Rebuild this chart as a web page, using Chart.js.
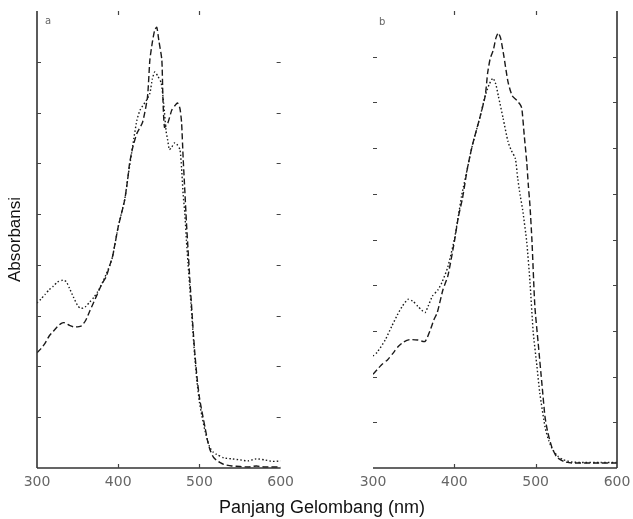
<!DOCTYPE html>
<html>
<head>
<meta charset="utf-8">
<script src="https://cdn.jsdelivr.net/npm/chart.js@4/dist/chart.umd.min.js"></script>
<style>
  html, body { margin: 0; padding: 0; background: #fff; }
  #wrap { position: relative; width: 633px; height: 519px; overflow: hidden; }
  canvas { position: absolute; top: 0; }
  #ca { left: 0; }
  #cb { left: 330px; }
  .lbl { position: absolute; font-family: "DejaVu Sans", sans-serif; font-size: 10px; color: #666; }
  #xtitle { position: absolute; left: 0; width: 644px; text-align: center; top: 497px;
            font-family: "Liberation Sans", Arial, sans-serif; font-size: 18px; color: #111; }
</style>
</head>
<body>
<div id="wrap">
  <canvas id="ca" width="300" height="519"></canvas>
  <canvas id="cb" width="312" height="519"></canvas>
  <div class="lbl" style="left:45px; top:15px;">a</div>
  <div class="lbl" style="left:379px; top:16px;">b</div>
  <div id="xtitle">Panjang Gelombang (nm)</div>
</div>
<script>
// ---- Data (wavelength in nm, absorbance in arbitrary units) ----
const xTicks = [300, 400, 500, 600];

// Panel a
const aDashedNm = [300,305,310,315,320,325,330,334,340,345,350,355,360,365,370,375,380,385,390,393,400,408,412,414,418,423,430,436,439,442,445,447.5,450,453.7,455,457,461,466,470,473,476,478,480,482,484,486,488,490,492,494,497,500,503,507,510,513,517,521,525,530,540,550,560,570,580,600];
const aDashedAbs = [0.227,0.235,0.246,0.260,0.269,0.278,0.285,0.286,0.281,0.278,0.278,0.280,0.291,0.309,0.327,0.345,0.363,0.376,0.401,0.416,0.475,0.528,0.573,0.600,0.632,0.659,0.681,0.730,0.804,0.838,0.863,0.868,0.842,0.804,0.730,0.671,0.679,0.705,0.714,0.719,0.708,0.681,0.609,0.547,0.484,0.430,0.376,0.327,0.278,0.233,0.179,0.139,0.112,0.079,0.054,0.036,0.022,0.015,0.011,0.007,0.004,0.003,0.002,0.004,0.002,0.002];

const aDottedNm = [300,305,310,315,320,325,332,336,340,345,350,353,357,360,365,370,375,380,385,390,393,400,408,412,418,423,427,435,439,442,445,449,453,456,459,461,463,466,469,472,476,478,480,482,484,486,488,490,492,494,497,500,503,507,510,513,517,521,530,540,550,560,570,580,590,600];
const aDottedAbs = [0.325,0.333,0.342,0.351,0.358,0.366,0.370,0.367,0.354,0.336,0.320,0.315,0.315,0.318,0.327,0.336,0.348,0.363,0.381,0.401,0.416,0.475,0.529,0.573,0.636,0.685,0.705,0.725,0.738,0.766,0.780,0.771,0.758,0.717,0.663,0.645,0.627,0.632,0.640,0.638,0.627,0.591,0.538,0.502,0.448,0.403,0.358,0.314,0.269,0.224,0.170,0.130,0.103,0.072,0.054,0.040,0.031,0.027,0.020,0.018,0.016,0.014,0.018,0.016,0.013,0.014];

// Panel b
const bDashedNm = [300,305,310,318,325,331,338,345,355,364,370,375,379,386,392,400,405,410,416,422,432,438,441,444,448,451,454,457,461,466,471,477,481,483,486,489,491,493,495.5,499,503,508,511.5,515,520,526,535,545,560,580,600];
const bDashedAbs = [0.205,0.215,0.225,0.237,0.252,0.266,0.276,0.281,0.280,0.277,0.300,0.325,0.340,0.390,0.420,0.495,0.550,0.590,0.655,0.705,0.771,0.815,0.865,0.895,0.915,0.940,0.952,0.940,0.900,0.845,0.815,0.804,0.795,0.787,0.727,0.670,0.618,0.574,0.495,0.354,0.275,0.178,0.112,0.077,0.045,0.024,0.014,0.011,0.011,0.011,0.011];

const bDottedNm = [300,305,315,323,330,336,343,349,355,360,364,368,373,380,385,392,400,405,409,416,422,432,438,443,447.5,451,454,460,466,470,475,478,481,484,489,493,497,501.6,505,511.5,516,521,527,534,545,560,580,600];
const bDottedAbs = [0.245,0.253,0.280,0.310,0.335,0.354,0.369,0.365,0.354,0.345,0.340,0.355,0.376,0.390,0.407,0.440,0.500,0.552,0.596,0.655,0.705,0.771,0.815,0.840,0.853,0.840,0.815,0.765,0.714,0.695,0.677,0.633,0.596,0.565,0.495,0.407,0.297,0.222,0.165,0.090,0.060,0.040,0.026,0.018,0.013,0.012,0.012,0.012];

const aYMax = 0.9, bYMax = 1.0, yStep = 0.1;

function pts(xs, ys) { return xs.map((x, i) => ({ x: x, y: ys[i] })); }

// Frame plugin: axis lines and inward tick marks drawn from the chart's scales
const framePlugin = {
  id: 'frame',
  afterDraw(chart, args, o) {
    const ctx = chart.ctx, ca = chart.chartArea;
    const xs = chart.scales.x, ys = chart.scales.y;
    ctx.save();
    ctx.strokeStyle = '#333';
    ctx.lineWidth = 1.6;
    ctx.beginPath();
    if (o.leftLine) { ctx.moveTo(ca.left, ca.top); ctx.lineTo(ca.left, ca.bottom); }
    if (o.rightLine) { ctx.moveTo(ca.right, ca.top); ctx.lineTo(ca.right, ca.bottom); }
    ctx.moveTo(ca.left, ca.bottom); ctx.lineTo(ca.right, ca.bottom);
    ctx.stroke();
    ctx.lineWidth = 1.2;
    ctx.strokeStyle = '#444';
    ctx.beginPath();
    ys.ticks.forEach(t => {
      if (t.value <= ys.min + 1e-9 || t.value >= ys.max - 1e-9) return;
      const py = Math.round(ys.getPixelForValue(t.value)) + 0.5;
      ctx.moveTo(ca.left, py); ctx.lineTo(ca.left + 4, py);
      ctx.moveTo(ca.right - 4, py); ctx.lineTo(ca.right, py);
    });
    xs.ticks.forEach(t => {
      if (t.value <= xs.min || t.value >= xs.max) return;
      const px = Math.round(xs.getPixelForValue(t.value)) + 0.5;
      ctx.moveTo(px, ca.bottom); ctx.lineTo(px, ca.bottom - 4);
      ctx.moveTo(px, ca.top); ctx.lineTo(px, ca.top + 4);
    });
    ctx.stroke();
    ctx.restore();
  }
};

function makeChart(id, dashed, dotted, yMax, yWidth, padRight, showTitle, frameOpts) {
  return new Chart(document.getElementById(id), {
    type: 'line',
    data: {
      datasets: [
        { data: dashed, borderColor: '#1a1a1a', borderWidth: 1.4, borderDash: [6, 3], pointRadius: 0, tension: 0.2, fill: false },
        { data: dotted, borderColor: '#1a1a1a', borderWidth: 1.4, borderDash: [1.5, 2.2], pointRadius: 0, tension: 0.2, fill: false }
      ]
    },
    options: {
      responsive: false,
      animation: false,
      devicePixelRatio: 1,
      layout: { padding: { top: 11, right: padRight, left: 0, bottom: 0 } },
      plugins: { legend: { display: false }, tooltip: { enabled: false }, frame: frameOpts },
      scales: {
        x: {
          type: 'linear', min: 300, max: 600,
          afterBuildTicks: s => { s.ticks = xTicks.map(v => ({ value: v })); },
          grid: { display: false, drawTicks: false },
          border: { display: false },
          ticks: { color: '#666', font: { family: 'DejaVu Sans', size: 14 }, padding: 6, maxRotation: 0 },
          afterFit: s => { s.height = 51; }
        },
        y: {
          min: 0, max: yMax,
          ticks: { display: false, stepSize: yStep },
          grid: { display: false, drawTicks: false },
          border: { display: false },
          title: { display: showTitle, text: 'Absorbansi', color: '#111',
                   font: { family: 'Liberation Sans', size: 17 }, padding: { top: 5, bottom: 0 } },
          afterFit: s => { s.width = yWidth; }
        }
      }
    },
    plugins: [framePlugin]
  });
}

makeChart('ca', pts(aDashedNm, aDashedAbs), pts(aDottedNm, aDottedAbs), aYMax, 37, 19, true, { leftLine: true, rightLine: false });
makeChart('cb', pts(bDashedNm, bDashedAbs), pts(bDottedNm, bDottedAbs), bYMax, 43, 25, false, { leftLine: false, rightLine: true });
</script>
</body>
</html>
